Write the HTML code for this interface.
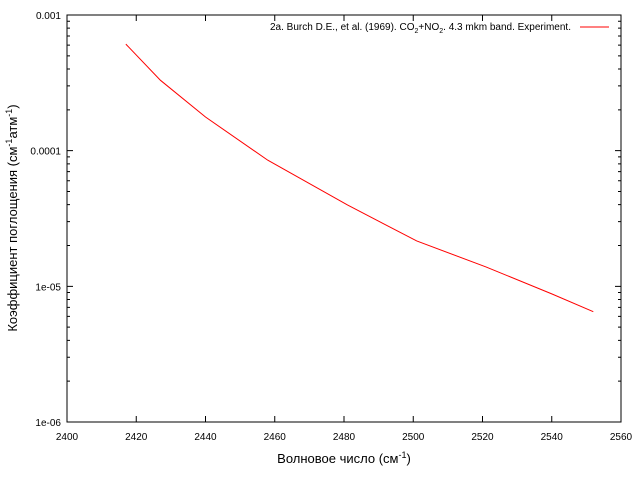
<!DOCTYPE html>
<html><head><meta charset="utf-8"><style>
body{margin:0;background:#fff;}
svg{display:block;font-family:"Liberation Sans","DejaVu Sans",sans-serif;}
</style></head><body>
<svg id="chart" width="640" height="480"></svg>
<script>
const xValues=[2417,2427,2440,2458,2481,2501,2521,2540,2552];
const yValues=[6.1e-4,3.3e-4,1.77e-4,8.5e-5,3.98e-5,2.16e-5,1.39e-5,8.8e-6,6.5e-6];
const xTicks=[2400,2420,2440,2460,2480,2500,2520,2540,2560];
const yTicks=[1e-3,1e-4,1e-5,1e-6];
const yTickLabels=["0.001","0.0001","1e-05","1e-06"];
const L=67,R=621,T=15,B=422;
const sx=v=>L+(v-2400)/(2560-2400)*(R-L);
const sy=v=>T+(-3-Math.log10(v))/3*(B-T);
const svg=document.getElementById('chart');
const NS='http://www.w3.org/2000/svg';
function mk(tag,attrs,parent){const e=document.createElementNS(NS,tag);for(const k in attrs)e.setAttribute(k,attrs[k]);(parent||svg).appendChild(e);return e;}
const frame=mk('rect',{x:L,y:T,width:R-L,height:B-T,fill:'none',stroke:'#000','stroke-width':1});


xTicks.forEach(t=>{const x=sx(t);
 const tk=mk('path',{d:`M${x},${B}v-6M${x},${T}v6`,stroke:'#000'});
 
 
 const tx=mk('text',{x:x,y:B+18,'font-size':10,'text-anchor':'middle'});tx.textContent=t;
 
 
});
yTicks.forEach((t,i)=>{const y=sy(t);
 const tk=mk('path',{d:`M${L},${y}h6M${R},${y}h-6`,stroke:'#000'});
 
 
 const tx=mk('text',{x:L-6,y:y+4,'font-size':10,'text-anchor':'end'});tx.textContent=yTickLabels[i];
 
 
 if(i<yTicks.length-1){for(let m=2;m<=9;m++){const yy=sy(t/10*m);
  const mt=mk('path',{d:`M${L},${yy}h3M${R},${yy}h-3`,stroke:'#000'});
  
  }}
});
const line=mk('polyline',{points:xValues.map((x,i)=>sx(x)+','+sy(yValues[i])).join(' '),fill:'none',stroke:'#ff0000','stroke-width':1});


const lg=mk('text',{x:571,y:30,'font-size':10,'text-anchor':'end'});
lg.innerHTML='2a. Burch D.E., et al. (1969). CO<tspan font-size="7" dy="3">2</tspan><tspan dy="-3">+NO</tspan><tspan font-size="7" dy="3">2</tspan><tspan dy="-3">. 4.3 mkm band. Experiment.</tspan>';


const ll=mk('line',{x1:580,x2:609,y1:27,y2:27,stroke:'#ff0000'});


const xt=mk('text',{x:344,y:463,'font-size':13,'text-anchor':'middle'});
xt.innerHTML='Волновое число (см<tspan font-size="9" dy="-5">-1</tspan><tspan dy="5">)</tspan>';


const yt=mk('text',{x:0,y:0,'font-size':13,'text-anchor':'middle',transform:'translate(17,218) rotate(-90)'});
yt.innerHTML='Коэффициент поглощения (см<tspan font-size="9" dy="-5">-1</tspan><tspan dy="5">атм</tspan><tspan font-size="9" dy="-5">-1</tspan><tspan dy="5">)</tspan>';


</script>
</body></html>
